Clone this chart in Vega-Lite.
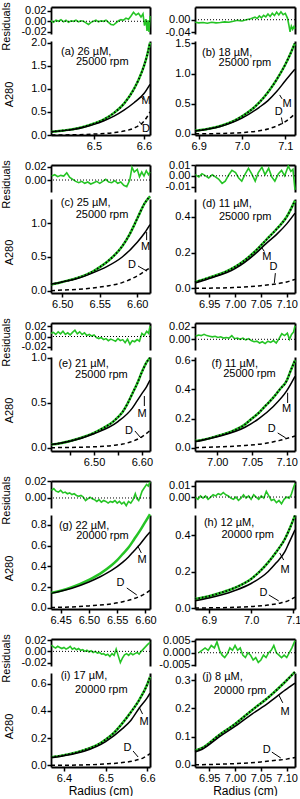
{
"$schema":"https://vega.github.io/schema/vega-lite/v6.json",
"padding":{"left":0,"top":1,"right":0,"bottom":0},
"config":{"view":{"stroke":null},"font":"Liberation Sans",
"locale":{"number":{"decimal":".","thousands":",","grouping":[3],"currency":["",""],"minus":"-"}},
"axis":{"grid":false,"domainColor":"black","domainWidth":1.8,"tickColor":"black","tickWidth":1.5,"tickSize":4,"labelFontSize":11,"labelColor":"black","labelPadding":1,"labelFlush":false,"labelOverlap":false,"labelBound":false,"titleFontSize":11,"titleFontWeight":"normal","titleColor":"black"},
"text":{"font":"Liberation Sans","color":"black"}},
"datasets":{"d":[
{"p":"a","s":"res","r":6.414,"v":0.001},{"p":"a","s":"res","r":6.419,"v":-0.002},{"p":"a","s":"res","r":6.424,"v":0.002},{"p":"a","s":"res","r":6.429,"v":0},{"p":"a","s":"res","r":6.434,"v":0.003},{"p":"a","s":"res","r":6.439,"v":-0.001},{"p":"a","s":"res","r":6.444,"v":0.002},{"p":"a","s":"res","r":6.449,"v":-0.002},{"p":"a","s":"res","r":6.454,"v":0.001},{"p":"a","s":"res","r":6.459,"v":0},{"p":"a","s":"res","r":6.464,"v":0.002},{"p":"a","s":"res","r":6.469,"v":-0.001},{"p":"a","s":"res","r":6.474,"v":0.001},{"p":"a","s":"res","r":6.479,"v":0},{"p":"a","s":"res","r":6.484,"v":-0.003},{"p":"a","s":"res","r":6.489,"v":-0.006},{"p":"a","s":"res","r":6.494,"v":-0.002},{"p":"a","s":"res","r":6.499,"v":0},{"p":"a","s":"res","r":6.504,"v":0.002},{"p":"a","s":"res","r":6.509,"v":-0.001},{"p":"a","s":"res","r":6.514,"v":0.001},{"p":"a","s":"res","r":6.519,"v":0},{"p":"a","s":"res","r":6.524,"v":0.002},{"p":"a","s":"res","r":6.529,"v":-0.002},{"p":"a","s":"res","r":6.534,"v":-0.006},{"p":"a","s":"res","r":6.539,"v":-0.007},{"p":"a","s":"res","r":6.544,"v":-0.003},{"p":"a","s":"res","r":6.549,"v":0.001},{"p":"a","s":"res","r":6.554,"v":0.003},{"p":"a","s":"res","r":6.559,"v":0.002},{"p":"a","s":"res","r":6.564,"v":0.006},{"p":"a","s":"res","r":6.569,"v":0.004},{"p":"a","s":"res","r":6.574,"v":0.01},{"p":"a","s":"res","r":6.579,"v":0.017},{"p":"a","s":"res","r":6.584,"v":0.012},{"p":"a","s":"res","r":6.589,"v":0.015},{"p":"a","s":"res","r":6.594,"v":0.008},{"p":"a","s":"res","r":6.598,"v":0.014},{"p":"a","s":"res","r":6.601,"v":-0.008},{"p":"a","s":"res","r":6.604,"v":0.004},{"p":"a","s":"res","r":6.606,"v":-0.018},{"p":"a","s":"res","r":6.608,"v":0.002},{"p":"a","s":"res","r":6.61,"v":-0.02},{"p":"a","s":"res","r":6.612,"v":0.01},
{"p":"a","s":"fit","r":6.415,"v":0.07},{"p":"a","s":"fit","r":6.44,"v":0.1},{"p":"a","s":"fit","r":6.46,"v":0.13},{"p":"a","s":"fit","r":6.48,"v":0.18},{"p":"a","s":"fit","r":6.5,"v":0.25},{"p":"a","s":"fit","r":6.52,"v":0.34},{"p":"a","s":"fit","r":6.54,"v":0.48},{"p":"a","s":"fit","r":6.56,"v":0.68},{"p":"a","s":"fit","r":6.58,"v":1.0},{"p":"a","s":"fit","r":6.59,"v":1.22},{"p":"a","s":"fit","r":6.6,"v":1.5},{"p":"a","s":"fit","r":6.606,"v":1.72},{"p":"a","s":"fit","r":6.612,"v":2.0},
{"p":"a","s":"M","r":6.415,"v":0.07},{"p":"a","s":"M","r":6.44,"v":0.095},{"p":"a","s":"M","r":6.46,"v":0.125},{"p":"a","s":"M","r":6.48,"v":0.17},{"p":"a","s":"M","r":6.5,"v":0.23},{"p":"a","s":"M","r":6.52,"v":0.31},{"p":"a","s":"M","r":6.54,"v":0.41},{"p":"a","s":"M","r":6.56,"v":0.54},{"p":"a","s":"M","r":6.58,"v":0.7},{"p":"a","s":"M","r":6.6,"v":0.9},{"p":"a","s":"M","r":6.612,"v":1.1},
{"p":"a","s":"D","r":6.415,"v":0},{"p":"a","s":"D","r":6.46,"v":0.005},{"p":"a","s":"D","r":6.5,"v":0.02},{"p":"a","s":"D","r":6.54,"v":0.05},{"p":"a","s":"D","r":6.56,"v":0.085},{"p":"a","s":"D","r":6.58,"v":0.15},{"p":"a","s":"D","r":6.6,"v":0.3},{"p":"a","s":"D","r":6.612,"v":0.5},
{"p":"a","s":"lab","r":6.434,"v":1.81,"t":"(a) 26 µM,"},{"p":"a","s":"lab","r":6.464,"v":1.575,"t":"25000 rpm"},{"p":"a","s":"md","r":6.604,"v":0.745,"t":"M"},{"p":"a","s":"md","r":6.604,"v":0.12,"t":"D"},
{"p":"a","s":"lead","r":6.5946,"v":0.82,"r2":6.6,"v2":0.77},{"p":"a","s":"lead","r":6.59,"v":0.29,"r2":6.597,"v2":0.22},

{"p":"b","s":"res","r":6.892,"v":-0.008},{"p":"b","s":"res","r":6.9,"v":-0.01},{"p":"b","s":"res","r":6.91,"v":-0.009},{"p":"b","s":"res","r":6.92,"v":-0.011},{"p":"b","s":"res","r":6.93,"v":-0.008},{"p":"b","s":"res","r":6.94,"v":-0.01},{"p":"b","s":"res","r":6.95,"v":-0.009},{"p":"b","s":"res","r":6.96,"v":-0.007},{"p":"b","s":"res","r":6.97,"v":-0.008},{"p":"b","s":"res","r":6.98,"v":-0.005},{"p":"b","s":"res","r":6.99,"v":-0.002},{"p":"b","s":"res","r":7.0,"v":-0.004},{"p":"b","s":"res","r":7.01,"v":0},{"p":"b","s":"res","r":7.02,"v":0.003},{"p":"b","s":"res","r":7.03,"v":0.008},{"p":"b","s":"res","r":7.035,"v":0.004},{"p":"b","s":"res","r":7.04,"v":0.012},{"p":"b","s":"res","r":7.045,"v":0.006},{"p":"b","s":"res","r":7.05,"v":0.014},{"p":"b","s":"res","r":7.055,"v":0.009},{"p":"b","s":"res","r":7.06,"v":0.018},{"p":"b","s":"res","r":7.065,"v":0.01},{"p":"b","s":"res","r":7.07,"v":0.02},{"p":"b","s":"res","r":7.075,"v":0.013},{"p":"b","s":"res","r":7.08,"v":0.024},{"p":"b","s":"res","r":7.085,"v":0.015},{"p":"b","s":"res","r":7.09,"v":0.025},{"p":"b","s":"res","r":7.095,"v":0.016},{"p":"b","s":"res","r":7.1,"v":0.02},{"p":"b","s":"res","r":7.105,"v":0.005},{"p":"b","s":"res","r":7.108,"v":-0.015},{"p":"b","s":"res","r":7.111,"v":-0.038},{"p":"b","s":"res","r":7.114,"v":-0.02},{"p":"b","s":"res","r":7.117,"v":-0.03},{"p":"b","s":"res","r":7.12,"v":-0.022},{"p":"b","s":"res","r":7.122,"v":-0.028},
{"p":"b","s":"fit","r":6.892,"v":0.05},{"p":"b","s":"fit","r":6.92,"v":0.08},{"p":"b","s":"fit","r":6.95,"v":0.13},{"p":"b","s":"fit","r":6.98,"v":0.21},{"p":"b","s":"fit","r":7.0,"v":0.29},{"p":"b","s":"fit","r":7.02,"v":0.39},{"p":"b","s":"fit","r":7.04,"v":0.52},{"p":"b","s":"fit","r":7.06,"v":0.69},{"p":"b","s":"fit","r":7.08,"v":0.9},{"p":"b","s":"fit","r":7.1,"v":1.15},{"p":"b","s":"fit","r":7.11,"v":1.3},{"p":"b","s":"fit","r":7.122,"v":1.5},
{"p":"b","s":"M","r":6.892,"v":0.045},{"p":"b","s":"M","r":6.95,"v":0.12},{"p":"b","s":"M","r":7.0,"v":0.26},{"p":"b","s":"M","r":7.04,"v":0.44},{"p":"b","s":"M","r":7.06,"v":0.55},{"p":"b","s":"M","r":7.08,"v":0.7},{"p":"b","s":"M","r":7.1,"v":0.88},{"p":"b","s":"M","r":7.122,"v":1.07},
{"p":"b","s":"D","r":6.892,"v":0},{"p":"b","s":"D","r":6.95,"v":0.005},{"p":"b","s":"D","r":7.0,"v":0.02},{"p":"b","s":"D","r":7.04,"v":0.05},{"p":"b","s":"D","r":7.06,"v":0.08},{"p":"b","s":"D","r":7.08,"v":0.13},{"p":"b","s":"D","r":7.1,"v":0.2},{"p":"b","s":"D","r":7.122,"v":0.33},
{"p":"b","s":"lab","r":6.9076,"v":1.334,"t":"(b) 18 µM,"},{"p":"b","s":"lab","r":6.946,"v":1.173,"t":"25000 rpm"},{"p":"b","s":"md","r":7.104,"v":0.5,"t":"M"},{"p":"b","s":"md","r":7.085,"v":0.37,"t":"D"},
{"p":"b","s":"lead","r":7.087,"v":0.645,"r2":7.0925,"v2":0.58},{"p":"b","s":"lead","r":7.091,"v":0.27,"r2":7.094,"v2":0.16},

{"p":"c","s":"res","r":6.486,"v":0.006},{"p":"c","s":"res","r":6.49,"v":0.008},{"p":"c","s":"res","r":6.494,"v":0.005},{"p":"c","s":"res","r":6.498,"v":0.007},{"p":"c","s":"res","r":6.502,"v":0.006},{"p":"c","s":"res","r":6.506,"v":0.011},{"p":"c","s":"res","r":6.51,"v":0.004},{"p":"c","s":"res","r":6.514,"v":0.001},{"p":"c","s":"res","r":6.518,"v":-0.002},{"p":"c","s":"res","r":6.522,"v":-0.004},{"p":"c","s":"res","r":6.526,"v":-0.002},{"p":"c","s":"res","r":6.53,"v":-0.005},{"p":"c","s":"res","r":6.534,"v":-0.003},{"p":"c","s":"res","r":6.538,"v":-0.006},{"p":"c","s":"res","r":6.542,"v":-0.004},{"p":"c","s":"res","r":6.546,"v":-0.002},{"p":"c","s":"res","r":6.55,"v":-0.005},{"p":"c","s":"res","r":6.554,"v":-0.002},{"p":"c","s":"res","r":6.558,"v":0.001},{"p":"c","s":"res","r":6.562,"v":-0.003},{"p":"c","s":"res","r":6.566,"v":-0.004},{"p":"c","s":"res","r":6.57,"v":-0.001},{"p":"c","s":"res","r":6.574,"v":-0.005},{"p":"c","s":"res","r":6.578,"v":-0.003},{"p":"c","s":"res","r":6.582,"v":-0.008},{"p":"c","s":"res","r":6.586,"v":-0.01},{"p":"c","s":"res","r":6.59,"v":0},{"p":"c","s":"res","r":6.593,"v":0.019},{"p":"c","s":"res","r":6.596,"v":0.012},{"p":"c","s":"res","r":6.6,"v":0.016},{"p":"c","s":"res","r":6.603,"v":0.005},{"p":"c","s":"res","r":6.606,"v":0.012},{"p":"c","s":"res","r":6.609,"v":0.006},{"p":"c","s":"res","r":6.612,"v":0.014},{"p":"c","s":"res","r":6.615,"v":0.008},{"p":"c","s":"res","r":6.617,"v":0.012},
{"p":"c","s":"fit","r":6.485,"v":0.09},{"p":"c","s":"fit","r":6.5,"v":0.13},{"p":"c","s":"fit","r":6.52,"v":0.19},{"p":"c","s":"fit","r":6.54,"v":0.28},{"p":"c","s":"fit","r":6.55,"v":0.35},{"p":"c","s":"fit","r":6.56,"v":0.43},{"p":"c","s":"fit","r":6.57,"v":0.53},{"p":"c","s":"fit","r":6.58,"v":0.66},{"p":"c","s":"fit","r":6.59,"v":0.84},{"p":"c","s":"fit","r":6.6,"v":1.07},{"p":"c","s":"fit","r":6.61,"v":1.3},{"p":"c","s":"fit","r":6.617,"v":1.4},
{"p":"c","s":"M","r":6.485,"v":0.1},{"p":"c","s":"M","r":6.5,"v":0.13},{"p":"c","s":"M","r":6.52,"v":0.18},{"p":"c","s":"M","r":6.54,"v":0.26},{"p":"c","s":"M","r":6.56,"v":0.36},{"p":"c","s":"M","r":6.58,"v":0.5},{"p":"c","s":"M","r":6.6,"v":0.72},{"p":"c","s":"M","r":6.61,"v":0.86},{"p":"c","s":"M","r":6.617,"v":0.98},
{"p":"c","s":"D","r":6.485,"v":0},{"p":"c","s":"D","r":6.5,"v":0.01},{"p":"c","s":"D","r":6.52,"v":0.02},{"p":"c","s":"D","r":6.54,"v":0.04},{"p":"c","s":"D","r":6.56,"v":0.07},{"p":"c","s":"D","r":6.58,"v":0.12},{"p":"c","s":"D","r":6.6,"v":0.22},{"p":"c","s":"D","r":6.61,"v":0.29},{"p":"c","s":"D","r":6.617,"v":0.34},
{"p":"c","s":"lab","r":6.498,"v":1.297,"t":"(c) 25 µM,"},{"p":"c","s":"lab","r":6.518,"v":1.123,"t":"25000 rpm"},{"p":"c","s":"md","r":6.611,"v":0.653,"t":"M"},{"p":"c","s":"md","r":6.593,"v":0.38,"t":"D"},
{"p":"c","s":"lead","r":6.6125,"v":0.87,"r2":6.6125,"v2":0.75},{"p":"c","s":"lead","r":6.601,"v":0.366,"r2":6.613,"v2":0.29},

{"p":"d","s":"res","r":6.923,"v":0.001},{"p":"d","s":"res","r":6.93,"v":-0.001},{"p":"d","s":"res","r":6.936,"v":0.002},{"p":"d","s":"res","r":6.943,"v":0},{"p":"d","s":"res","r":6.949,"v":-0.002},{"p":"d","s":"res","r":6.956,"v":0.001},{"p":"d","s":"res","r":6.962,"v":-0.001},{"p":"d","s":"res","r":6.968,"v":-0.003},{"p":"d","s":"res","r":6.975,"v":-0.007},{"p":"d","s":"res","r":6.981,"v":-0.005},{"p":"d","s":"res","r":6.988,"v":0.001},{"p":"d","s":"res","r":6.994,"v":0.005},{"p":"d","s":"res","r":7.001,"v":0.003},{"p":"d","s":"res","r":7.007,"v":-0.002},{"p":"d","s":"res","r":7.013,"v":-0.005},{"p":"d","s":"res","r":7.02,"v":0.002},{"p":"d","s":"res","r":7.026,"v":0.007},{"p":"d","s":"res","r":7.032,"v":0.002},{"p":"d","s":"res","r":7.039,"v":-0.005},{"p":"d","s":"res","r":7.045,"v":0.003},{"p":"d","s":"res","r":7.052,"v":0.008},{"p":"d","s":"res","r":7.058,"v":0.001},{"p":"d","s":"res","r":7.065,"v":0.007},{"p":"d","s":"res","r":7.071,"v":-0.001},{"p":"d","s":"res","r":7.077,"v":-0.005},{"p":"d","s":"res","r":7.084,"v":0.002},{"p":"d","s":"res","r":7.09,"v":0.005},{"p":"d","s":"res","r":7.096,"v":0},{"p":"d","s":"res","r":7.103,"v":0.009},{"p":"d","s":"res","r":7.108,"v":0.004},{"p":"d","s":"res","r":7.112,"v":0.006},{"p":"d","s":"res","r":7.116,"v":-0.013},
{"p":"d","s":"fit","r":6.9225,"v":0.035},{"p":"d","s":"fit","r":6.95,"v":0.06},{"p":"d","s":"fit","r":6.98,"v":0.09},{"p":"d","s":"fit","r":7.0,"v":0.12},{"p":"d","s":"fit","r":7.02,"v":0.16},{"p":"d","s":"fit","r":7.04,"v":0.21},{"p":"d","s":"fit","r":7.06,"v":0.27},{"p":"d","s":"fit","r":7.08,"v":0.33},{"p":"d","s":"fit","r":7.1,"v":0.4},{"p":"d","s":"fit","r":7.116,"v":0.49},
{"p":"d","s":"M","r":6.9225,"v":0.03},{"p":"d","s":"M","r":6.95,"v":0.055},{"p":"d","s":"M","r":7.0,"v":0.11},{"p":"d","s":"M","r":7.04,"v":0.195},{"p":"d","s":"M","r":7.06,"v":0.25},{"p":"d","s":"M","r":7.08,"v":0.3},{"p":"d","s":"M","r":7.1,"v":0.36},{"p":"d","s":"M","r":7.116,"v":0.42},
{"p":"d","s":"D","r":6.9225,"v":0},{"p":"d","s":"D","r":7.0,"v":0.005},{"p":"d","s":"D","r":7.05,"v":0.015},{"p":"d","s":"D","r":7.08,"v":0.025},{"p":"d","s":"D","r":7.1,"v":0.036},{"p":"d","s":"D","r":7.116,"v":0.05},
{"p":"d","s":"lab","r":6.9365,"v":0.472,"t":"(d) 11 µM,"},{"p":"d","s":"lab","r":6.9687,"v":0.398,"t":"25000 rpm"},{"p":"d","s":"md","r":7.0615,"v":0.176,"t":"M"},{"p":"d","s":"md","r":7.0744,"v":0.12,"t":"D"},
{"p":"d","s":"lead","r":7.0513,"v":0.229,"r2":7.0567,"v2":0.206},{"p":"d","s":"lead","r":7.078,"v":0.085,"r2":7.076,"v2":0.03},

{"p":"e","s":"res","r":6.41,"v":0.006},{"p":"e","s":"res","r":6.415,"v":0.008},{"p":"e","s":"res","r":6.42,"v":0.004},{"p":"e","s":"res","r":6.425,"v":0.009},{"p":"e","s":"res","r":6.43,"v":0.005},{"p":"e","s":"res","r":6.435,"v":0.01},{"p":"e","s":"res","r":6.44,"v":0.004},{"p":"e","s":"res","r":6.445,"v":0.007},{"p":"e","s":"res","r":6.45,"v":0.003},{"p":"e","s":"res","r":6.455,"v":0.008},{"p":"e","s":"res","r":6.46,"v":0.012},{"p":"e","s":"res","r":6.465,"v":0.005},{"p":"e","s":"res","r":6.47,"v":0.009},{"p":"e","s":"res","r":6.475,"v":0.004},{"p":"e","s":"res","r":6.48,"v":0.007},{"p":"e","s":"res","r":6.485,"v":0.002},{"p":"e","s":"res","r":6.49,"v":0.004},{"p":"e","s":"res","r":6.495,"v":0.001},{"p":"e","s":"res","r":6.5,"v":0.003},{"p":"e","s":"res","r":6.505,"v":-0.002},{"p":"e","s":"res","r":6.51,"v":-0.004},{"p":"e","s":"res","r":6.515,"v":-0.002},{"p":"e","s":"res","r":6.52,"v":-0.006},{"p":"e","s":"res","r":6.525,"v":-0.004},{"p":"e","s":"res","r":6.53,"v":-0.008},{"p":"e","s":"res","r":6.535,"v":-0.005},{"p":"e","s":"res","r":6.54,"v":-0.007},{"p":"e","s":"res","r":6.545,"v":-0.009},{"p":"e","s":"res","r":6.55,"v":-0.004},{"p":"e","s":"res","r":6.555,"v":-0.008},{"p":"e","s":"res","r":6.56,"v":-0.006},{"p":"e","s":"res","r":6.565,"v":-0.012},{"p":"e","s":"res","r":6.57,"v":-0.005},{"p":"e","s":"res","r":6.575,"v":-0.015},{"p":"e","s":"res","r":6.58,"v":-0.008},{"p":"e","s":"res","r":6.585,"v":-0.01},{"p":"e","s":"res","r":6.59,"v":-0.006},{"p":"e","s":"res","r":6.595,"v":-0.009},{"p":"e","s":"res","r":6.6,"v":0.006},{"p":"e","s":"res","r":6.605,"v":0.002},{"p":"e","s":"res","r":6.61,"v":0.01},{"p":"e","s":"res","r":6.614,"v":0.006},{"p":"e","s":"res","r":6.617,"v":0.02},
{"p":"e","s":"fit","r":6.41,"v":0.035},{"p":"e","s":"fit","r":6.43,"v":0.05},{"p":"e","s":"fit","r":6.45,"v":0.075},{"p":"e","s":"fit","r":6.47,"v":0.105},{"p":"e","s":"fit","r":6.5,"v":0.165},{"p":"e","s":"fit","r":6.52,"v":0.22},{"p":"e","s":"fit","r":6.54,"v":0.29},{"p":"e","s":"fit","r":6.55,"v":0.34},{"p":"e","s":"fit","r":6.56,"v":0.4},{"p":"e","s":"fit","r":6.57,"v":0.49},{"p":"e","s":"fit","r":6.58,"v":0.6},{"p":"e","s":"fit","r":6.59,"v":0.71},{"p":"e","s":"fit","r":6.6,"v":0.84},{"p":"e","s":"fit","r":6.61,"v":0.95},{"p":"e","s":"fit","r":6.617,"v":1.0},
{"p":"e","s":"M","r":6.41,"v":0.035},{"p":"e","s":"M","r":6.45,"v":0.072},{"p":"e","s":"M","r":6.5,"v":0.155},{"p":"e","s":"M","r":6.55,"v":0.29},{"p":"e","s":"M","r":6.58,"v":0.44},{"p":"e","s":"M","r":6.59,"v":0.52},{"p":"e","s":"M","r":6.6,"v":0.6},{"p":"e","s":"M","r":6.61,"v":0.68},{"p":"e","s":"M","r":6.617,"v":0.75},
{"p":"e","s":"D","r":6.41,"v":0},{"p":"e","s":"D","r":6.5,"v":0.01},{"p":"e","s":"D","r":6.54,"v":0.025},{"p":"e","s":"D","r":6.56,"v":0.04},{"p":"e","s":"D","r":6.58,"v":0.07},{"p":"e","s":"D","r":6.6,"v":0.12},{"p":"e","s":"D","r":6.617,"v":0.19},
{"p":"e","s":"lab","r":6.4256,"v":0.933,"t":"(e) 21 µM,"},{"p":"e","s":"lab","r":6.4604,"v":0.804,"t":"25000 rpm"},{"p":"e","s":"md","r":6.6006,"v":0.371,"t":"M"},{"p":"e","s":"md","r":6.5729,"v":0.186,"t":"D"},
{"p":"e","s":"lead","r":6.6052,"v":0.574,"r2":6.6052,"v2":0.463},{"p":"e","s":"lead","r":6.5854,"v":0.186,"r2":6.598,"v2":0.108},

{"p":"f","s":"res","r":6.969,"v":0.005},{"p":"f","s":"res","r":6.973,"v":0.007},{"p":"f","s":"res","r":6.977,"v":0.006},{"p":"f","s":"res","r":6.981,"v":0.008},{"p":"f","s":"res","r":6.985,"v":0.006},{"p":"f","s":"res","r":6.989,"v":0.005},{"p":"f","s":"res","r":6.993,"v":0.004},{"p":"f","s":"res","r":6.997,"v":0.005},{"p":"f","s":"res","r":7.001,"v":0.003},{"p":"f","s":"res","r":7.005,"v":0.004},{"p":"f","s":"res","r":7.009,"v":0.002},{"p":"f","s":"res","r":7.013,"v":0.003},{"p":"f","s":"res","r":7.017,"v":0.002},{"p":"f","s":"res","r":7.021,"v":0.006},{"p":"f","s":"res","r":7.025,"v":0.001},{"p":"f","s":"res","r":7.029,"v":0.002},{"p":"f","s":"res","r":7.033,"v":0},{"p":"f","s":"res","r":7.037,"v":0.002},{"p":"f","s":"res","r":7.041,"v":-0.001},{"p":"f","s":"res","r":7.045,"v":0.001},{"p":"f","s":"res","r":7.049,"v":-0.002},{"p":"f","s":"res","r":7.053,"v":-0.004},{"p":"f","s":"res","r":7.057,"v":-0.003},{"p":"f","s":"res","r":7.061,"v":-0.006},{"p":"f","s":"res","r":7.065,"v":-0.004},{"p":"f","s":"res","r":7.069,"v":-0.007},{"p":"f","s":"res","r":7.073,"v":-0.003},{"p":"f","s":"res","r":7.077,"v":-0.005},{"p":"f","s":"res","r":7.081,"v":-0.002},{"p":"f","s":"res","r":7.085,"v":-0.006},{"p":"f","s":"res","r":7.089,"v":0.001},{"p":"f","s":"res","r":7.093,"v":0.009},{"p":"f","s":"res","r":7.097,"v":0.006},{"p":"f","s":"res","r":7.101,"v":0.01},{"p":"f","s":"res","r":7.104,"v":0},{"p":"f","s":"res","r":7.107,"v":0.008},{"p":"f","s":"res","r":7.11,"v":0.012},{"p":"f","s":"res","r":7.112,"v":0.022},
{"p":"f","s":"fit","r":6.968,"v":0.045},{"p":"f","s":"fit","r":6.98,"v":0.055},{"p":"f","s":"fit","r":7.0,"v":0.08},{"p":"f","s":"fit","r":7.02,"v":0.11},{"p":"f","s":"fit","r":7.04,"v":0.16},{"p":"f","s":"fit","r":7.05,"v":0.2},{"p":"f","s":"fit","r":7.06,"v":0.24},{"p":"f","s":"fit","r":7.07,"v":0.29},{"p":"f","s":"fit","r":7.08,"v":0.34},{"p":"f","s":"fit","r":7.09,"v":0.4},{"p":"f","s":"fit","r":7.1,"v":0.46},{"p":"f","s":"fit","r":7.105,"v":0.52},{"p":"f","s":"fit","r":7.112,"v":0.6},
{"p":"f","s":"M","r":6.968,"v":0.04},{"p":"f","s":"M","r":7.0,"v":0.075},{"p":"f","s":"M","r":7.04,"v":0.14},{"p":"f","s":"M","r":7.06,"v":0.2},{"p":"f","s":"M","r":7.08,"v":0.28},{"p":"f","s":"M","r":7.1,"v":0.39},{"p":"f","s":"M","r":7.112,"v":0.49},
{"p":"f","s":"D","r":6.968,"v":0},{"p":"f","s":"D","r":7.0,"v":0.005},{"p":"f","s":"D","r":7.04,"v":0.015},{"p":"f","s":"D","r":7.07,"v":0.03},{"p":"f","s":"D","r":7.09,"v":0.05},{"p":"f","s":"D","r":7.112,"v":0.08},
{"p":"f","s":"lab","r":6.9919,"v":0.572,"t":"(f) 11 µM,"},{"p":"f","s":"lab","r":7.0086,"v":0.504,"t":"25000 rpm"},{"p":"f","s":"md","r":7.1,"v":0.264,"t":"M"},{"p":"f","s":"md","r":7.0786,"v":0.126,"t":"D"},
{"p":"f","s":"lead","r":7.1014,"v":0.377,"r2":7.1014,"v2":0.307},{"p":"f","s":"lead","r":7.0871,"v":0.101,"r2":7.0986,"v2":0.067},

{"p":"g","s":"res","r":6.434,"v":0.009},{"p":"g","s":"res","r":6.438,"v":0.011},{"p":"g","s":"res","r":6.442,"v":0.008},{"p":"g","s":"res","r":6.446,"v":0.007},{"p":"g","s":"res","r":6.45,"v":0.009},{"p":"g","s":"res","r":6.454,"v":0.006},{"p":"g","s":"res","r":6.458,"v":0.007},{"p":"g","s":"res","r":6.462,"v":0.005},{"p":"g","s":"res","r":6.466,"v":0.006},{"p":"g","s":"res","r":6.47,"v":0.004},{"p":"g","s":"res","r":6.474,"v":0.005},{"p":"g","s":"res","r":6.478,"v":0.003},{"p":"g","s":"res","r":6.482,"v":0.002},{"p":"g","s":"res","r":6.486,"v":0.003},{"p":"g","s":"res","r":6.49,"v":0.001},{"p":"g","s":"res","r":6.494,"v":-0.003},{"p":"g","s":"res","r":6.498,"v":-0.001},{"p":"g","s":"res","r":6.502,"v":0.001},{"p":"g","s":"res","r":6.506,"v":-0.001},{"p":"g","s":"res","r":6.51,"v":-0.002},{"p":"g","s":"res","r":6.514,"v":-0.004},{"p":"g","s":"res","r":6.518,"v":-0.002},{"p":"g","s":"res","r":6.522,"v":-0.005},{"p":"g","s":"res","r":6.526,"v":-0.003},{"p":"g","s":"res","r":6.53,"v":-0.004},{"p":"g","s":"res","r":6.534,"v":-0.006},{"p":"g","s":"res","r":6.538,"v":-0.004},{"p":"g","s":"res","r":6.542,"v":-0.005},{"p":"g","s":"res","r":6.546,"v":-0.003},{"p":"g","s":"res","r":6.55,"v":-0.006},{"p":"g","s":"res","r":6.554,"v":-0.004},{"p":"g","s":"res","r":6.558,"v":-0.007},{"p":"g","s":"res","r":6.562,"v":-0.005},{"p":"g","s":"res","r":6.566,"v":-0.009},{"p":"g","s":"res","r":6.57,"v":-0.004},{"p":"g","s":"res","r":6.574,"v":-0.006},{"p":"g","s":"res","r":6.578,"v":-0.002},{"p":"g","s":"res","r":6.582,"v":0.005},{"p":"g","s":"res","r":6.585,"v":-0.001},{"p":"g","s":"res","r":6.588,"v":-0.003},{"p":"g","s":"res","r":6.591,"v":0.002},{"p":"g","s":"res","r":6.594,"v":0.008},{"p":"g","s":"res","r":6.598,"v":0.012},{"p":"g","s":"res","r":6.602,"v":0.016},{"p":"g","s":"res","r":6.605,"v":0.014},{"p":"g","s":"res","r":6.608,"v":0.019},
{"p":"g","s":"data","r":6.433,"v":0.145},{"p":"g","s":"data","r":6.45,"v":0.165},{"p":"g","s":"data","r":6.47,"v":0.2},{"p":"g","s":"data","r":6.5,"v":0.27},{"p":"g","s":"data","r":6.52,"v":0.33},{"p":"g","s":"data","r":6.54,"v":0.41},{"p":"g","s":"data","r":6.55,"v":0.46},{"p":"g","s":"data","r":6.56,"v":0.52},{"p":"g","s":"data","r":6.57,"v":0.58},{"p":"g","s":"data","r":6.58,"v":0.66},{"p":"g","s":"data","r":6.59,"v":0.74},{"p":"g","s":"data","r":6.6,"v":0.83},{"p":"g","s":"data","r":6.608,"v":0.9},
{"p":"g","s":"M","r":6.433,"v":0.14},{"p":"g","s":"M","r":6.45,"v":0.16},{"p":"g","s":"M","r":6.47,"v":0.19},{"p":"g","s":"M","r":6.5,"v":0.25},{"p":"g","s":"M","r":6.52,"v":0.3},{"p":"g","s":"M","r":6.54,"v":0.36},{"p":"g","s":"M","r":6.56,"v":0.44},{"p":"g","s":"M","r":6.57,"v":0.49},{"p":"g","s":"M","r":6.58,"v":0.55},{"p":"g","s":"M","r":6.59,"v":0.61},{"p":"g","s":"M","r":6.6,"v":0.68},{"p":"g","s":"M","r":6.608,"v":0.73},
{"p":"g","s":"D","r":6.433,"v":0.005},{"p":"g","s":"D","r":6.47,"v":0.01},{"p":"g","s":"D","r":6.5,"v":0.02},{"p":"g","s":"D","r":6.54,"v":0.04},{"p":"g","s":"D","r":6.56,"v":0.06},{"p":"g","s":"D","r":6.58,"v":0.09},{"p":"g","s":"D","r":6.6,"v":0.14},{"p":"g","s":"D","r":6.608,"v":0.17},
{"p":"g","s":"lab","r":6.447,"v":0.791,"t":"(g) 22 µM,"},{"p":"g","s":"lab","r":6.4775,"v":0.689,"t":"20000 rpm"},{"p":"g","s":"md","r":6.594,"v":0.464,"t":"M"},{"p":"g","s":"md","r":6.5559,"v":0.24,"t":"D"},
{"p":"g","s":"lead","r":6.5864,"v":0.596,"r2":6.5926,"v2":0.529},{"p":"g","s":"lead","r":6.567,"v":0.192,"r2":6.5846,"v2":0.125},

{"p":"h","s":"res","r":6.868,"v":0},{"p":"h","s":"res","r":6.874,"v":-0.002},{"p":"h","s":"res","r":6.88,"v":0.001},{"p":"h","s":"res","r":6.886,"v":-0.001},{"p":"h","s":"res","r":6.892,"v":0.001},{"p":"h","s":"res","r":6.898,"v":-0.002},{"p":"h","s":"res","r":6.904,"v":0},{"p":"h","s":"res","r":6.91,"v":0.002},{"p":"h","s":"res","r":6.916,"v":0.001},{"p":"h","s":"res","r":6.922,"v":0.003},{"p":"h","s":"res","r":6.928,"v":0.002},{"p":"h","s":"res","r":6.934,"v":0.004},{"p":"h","s":"res","r":6.94,"v":0.002},{"p":"h","s":"res","r":6.946,"v":0.001},{"p":"h","s":"res","r":6.952,"v":-0.001},{"p":"h","s":"res","r":6.958,"v":-0.002},{"p":"h","s":"res","r":6.964,"v":0},{"p":"h","s":"res","r":6.97,"v":-0.003},{"p":"h","s":"res","r":6.976,"v":-0.001},{"p":"h","s":"res","r":6.982,"v":0.002},{"p":"h","s":"res","r":6.988,"v":-0.001},{"p":"h","s":"res","r":6.994,"v":0.001},{"p":"h","s":"res","r":7.0,"v":-0.002},{"p":"h","s":"res","r":7.006,"v":0.002},{"p":"h","s":"res","r":7.012,"v":0},{"p":"h","s":"res","r":7.018,"v":-0.002},{"p":"h","s":"res","r":7.024,"v":0.001},{"p":"h","s":"res","r":7.03,"v":-0.001},{"p":"h","s":"res","r":7.036,"v":0.005},{"p":"h","s":"res","r":7.042,"v":0.001},{"p":"h","s":"res","r":7.048,"v":-0.003},{"p":"h","s":"res","r":7.054,"v":-0.002},{"p":"h","s":"res","r":7.06,"v":-0.005},{"p":"h","s":"res","r":7.066,"v":-0.003},{"p":"h","s":"res","r":7.072,"v":-0.006},{"p":"h","s":"res","r":7.078,"v":-0.002},{"p":"h","s":"res","r":7.084,"v":0},{"p":"h","s":"res","r":7.09,"v":-0.001},{"p":"h","s":"res","r":7.095,"v":0.002},{"p":"h","s":"res","r":7.1,"v":0.008},{"p":"h","s":"res","r":7.104,"v":0.012},
{"p":"h","s":"fit","r":6.867,"v":0.05},{"p":"h","s":"fit","r":6.9,"v":0.065},{"p":"h","s":"fit","r":6.93,"v":0.085},{"p":"h","s":"fit","r":6.96,"v":0.11},{"p":"h","s":"fit","r":7.0,"v":0.16},{"p":"h","s":"fit","r":7.02,"v":0.2},{"p":"h","s":"fit","r":7.04,"v":0.25},{"p":"h","s":"fit","r":7.06,"v":0.31},{"p":"h","s":"fit","r":7.08,"v":0.38},{"p":"h","s":"fit","r":7.09,"v":0.43},{"p":"h","s":"fit","r":7.104,"v":0.51},
{"p":"h","s":"M","r":6.867,"v":0.04},{"p":"h","s":"M","r":6.9,"v":0.055},{"p":"h","s":"M","r":6.96,"v":0.095},{"p":"h","s":"M","r":7.0,"v":0.135},{"p":"h","s":"M","r":7.04,"v":0.2},{"p":"h","s":"M","r":7.06,"v":0.25},{"p":"h","s":"M","r":7.08,"v":0.31},{"p":"h","s":"M","r":7.09,"v":0.36},{"p":"h","s":"M","r":7.104,"v":0.43},
{"p":"h","s":"D","r":6.867,"v":0},{"p":"h","s":"D","r":6.95,"v":0.003},{"p":"h","s":"D","r":7.0,"v":0.008},{"p":"h","s":"D","r":7.04,"v":0.016},{"p":"h","s":"D","r":7.07,"v":0.028},{"p":"h","s":"D","r":7.09,"v":0.042},{"p":"h","s":"D","r":7.104,"v":0.06},
{"p":"h","s":"lab","r":6.8882,"v":0.468,"t":"(h) 12 µM,"},{"p":"h","s":"lab","r":6.9296,"v":0.403,"t":"20000 rpm"},{"p":"h","s":"md","r":7.0802,"v":0.211,"t":"M"},{"p":"h","s":"md","r":7.0294,"v":0.083,"t":"D"},
{"p":"h","s":"lead","r":7.0678,"v":0.303,"r2":7.0772,"v2":0.264},{"p":"h","s":"lead","r":7.0419,"v":0.072,"r2":7.0654,"v2":0.039},

{"p":"i","s":"res","r":6.37,"v":0.011},{"p":"i","s":"res","r":6.375,"v":0.008},{"p":"i","s":"res","r":6.38,"v":0.006},{"p":"i","s":"res","r":6.385,"v":0.009},{"p":"i","s":"res","r":6.39,"v":0.007},{"p":"i","s":"res","r":6.395,"v":0.005},{"p":"i","s":"res","r":6.4,"v":0.007},{"p":"i","s":"res","r":6.405,"v":0.004},{"p":"i","s":"res","r":6.41,"v":0.006},{"p":"i","s":"res","r":6.415,"v":0.009},{"p":"i","s":"res","r":6.42,"v":0.004},{"p":"i","s":"res","r":6.425,"v":0.006},{"p":"i","s":"res","r":6.43,"v":0.003},{"p":"i","s":"res","r":6.435,"v":0.005},{"p":"i","s":"res","r":6.44,"v":0.002},{"p":"i","s":"res","r":6.445,"v":0.003},{"p":"i","s":"res","r":6.45,"v":0},{"p":"i","s":"res","r":6.455,"v":0.002},{"p":"i","s":"res","r":6.46,"v":-0.001},{"p":"i","s":"res","r":6.465,"v":0.001},{"p":"i","s":"res","r":6.47,"v":-0.002},{"p":"i","s":"res","r":6.475,"v":0},{"p":"i","s":"res","r":6.48,"v":-0.003},{"p":"i","s":"res","r":6.485,"v":-0.002},{"p":"i","s":"res","r":6.49,"v":-0.005},{"p":"i","s":"res","r":6.495,"v":-0.004},{"p":"i","s":"res","r":6.5,"v":-0.007},{"p":"i","s":"res","r":6.505,"v":-0.005},{"p":"i","s":"res","r":6.51,"v":-0.009},{"p":"i","s":"res","r":6.515,"v":-0.004},{"p":"i","s":"res","r":6.52,"v":-0.007},{"p":"i","s":"res","r":6.525,"v":0.004},{"p":"i","s":"res","r":6.53,"v":-0.008},{"p":"i","s":"res","r":6.535,"v":-0.02},{"p":"i","s":"res","r":6.54,"v":-0.012},{"p":"i","s":"res","r":6.545,"v":-0.006},{"p":"i","s":"res","r":6.55,"v":-0.004},{"p":"i","s":"res","r":6.555,"v":-0.007},{"p":"i","s":"res","r":6.56,"v":-0.003},{"p":"i","s":"res","r":6.565,"v":-0.006},{"p":"i","s":"res","r":6.57,"v":-0.004},{"p":"i","s":"res","r":6.575,"v":-0.002},{"p":"i","s":"res","r":6.58,"v":-0.005},{"p":"i","s":"res","r":6.585,"v":0},{"p":"i","s":"res","r":6.59,"v":0.004},{"p":"i","s":"res","r":6.595,"v":0.008},{"p":"i","s":"res","r":6.6,"v":0.012},{"p":"i","s":"res","r":6.606,"v":0.016},
{"p":"i","s":"fit","r":6.369,"v":0.06},{"p":"i","s":"fit","r":6.4,"v":0.075},{"p":"i","s":"fit","r":6.43,"v":0.095},{"p":"i","s":"fit","r":6.46,"v":0.125},{"p":"i","s":"fit","r":6.48,"v":0.15},{"p":"i","s":"fit","r":6.5,"v":0.19},{"p":"i","s":"fit","r":6.52,"v":0.24},{"p":"i","s":"fit","r":6.54,"v":0.31},{"p":"i","s":"fit","r":6.56,"v":0.39},{"p":"i","s":"fit","r":6.58,"v":0.48},{"p":"i","s":"fit","r":6.6,"v":0.6},{"p":"i","s":"fit","r":6.606,"v":0.65},
{"p":"i","s":"M","r":6.369,"v":0.055},{"p":"i","s":"M","r":6.4,"v":0.07},{"p":"i","s":"M","r":6.45,"v":0.105},{"p":"i","s":"M","r":6.5,"v":0.175},{"p":"i","s":"M","r":6.54,"v":0.27},{"p":"i","s":"M","r":6.56,"v":0.33},{"p":"i","s":"M","r":6.58,"v":0.42},{"p":"i","s":"M","r":6.6,"v":0.5},{"p":"i","s":"M","r":6.606,"v":0.53},
{"p":"i","s":"D","r":6.369,"v":0},{"p":"i","s":"D","r":6.45,"v":0.003},{"p":"i","s":"D","r":6.5,"v":0.01},{"p":"i","s":"D","r":6.54,"v":0.02},{"p":"i","s":"D","r":6.57,"v":0.035},{"p":"i","s":"D","r":6.59,"v":0.055},{"p":"i","s":"D","r":6.606,"v":0.085},
{"p":"i","s":"lab","r":6.3921,"v":0.657,"t":"(i) 17 µM,"},{"p":"i","s":"lab","r":6.4264,"v":0.556,"t":"20000 rpm"},{"p":"i","s":"md","r":6.5918,"v":0.318,"t":"M"},{"p":"i","s":"md","r":6.5518,"v":0.127,"t":"D"},
{"p":"i","s":"lead","r":6.5799,"v":0.429,"r2":6.5882,"v2":0.377},{"p":"i","s":"lead","r":6.5655,"v":0.105,"r2":6.5775,"v2":0.061},

{"p":"j","s":"res","r":6.93,"v":0},{"p":"j","s":"res","r":6.936,"v":0.001},{"p":"j","s":"res","r":6.942,"v":0.002},{"p":"j","s":"res","r":6.948,"v":0.001},{"p":"j","s":"res","r":6.954,"v":0.003},{"p":"j","s":"res","r":6.96,"v":0.002},{"p":"j","s":"res","r":6.965,"v":0.0045},{"p":"j","s":"res","r":6.97,"v":0.001},{"p":"j","s":"res","r":6.975,"v":-0.001},{"p":"j","s":"res","r":6.98,"v":-0.002},{"p":"j","s":"res","r":6.985,"v":-0.0005},{"p":"j","s":"res","r":6.99,"v":0.002},{"p":"j","s":"res","r":6.995,"v":0.001},{"p":"j","s":"res","r":7.0,"v":0.003},{"p":"j","s":"res","r":7.005,"v":0.001},{"p":"j","s":"res","r":7.01,"v":0.002},{"p":"j","s":"res","r":7.015,"v":-0.001},{"p":"j","s":"res","r":7.02,"v":-0.002},{"p":"j","s":"res","r":7.025,"v":0},{"p":"j","s":"res","r":7.03,"v":-0.001},{"p":"j","s":"res","r":7.035,"v":-0.003},{"p":"j","s":"res","r":7.04,"v":-0.002},{"p":"j","s":"res","r":7.045,"v":-0.004},{"p":"j","s":"res","r":7.05,"v":-0.003},{"p":"j","s":"res","r":7.055,"v":-0.001},{"p":"j","s":"res","r":7.06,"v":-0.002},{"p":"j","s":"res","r":7.065,"v":0},{"p":"j","s":"res","r":7.07,"v":0.001},{"p":"j","s":"res","r":7.075,"v":0.003},{"p":"j","s":"res","r":7.08,"v":0},{"p":"j","s":"res","r":7.085,"v":-0.001},{"p":"j","s":"res","r":7.09,"v":-0.002},{"p":"j","s":"res","r":7.095,"v":-0.001},{"p":"j","s":"res","r":7.1,"v":-0.002},{"p":"j","s":"res","r":7.105,"v":0},{"p":"j","s":"res","r":7.11,"v":0.002},{"p":"j","s":"res","r":7.116,"v":0.005},
{"p":"j","s":"fit","r":6.9225,"v":0.05},{"p":"j","s":"fit","r":6.9365,"v":0.06},{"p":"j","s":"fit","r":6.9687,"v":0.105},{"p":"j","s":"fit","r":7.0006,"v":0.146},{"p":"j","s":"fit","r":7.0327,"v":0.194},{"p":"j","s":"fit","r":7.0648,"v":0.24},{"p":"j","s":"fit","r":7.0967,"v":0.294},{"p":"j","s":"fit","r":7.116,"v":0.33},
{"p":"j","s":"M","r":6.9225,"v":0.045},{"p":"j","s":"M","r":6.9365,"v":0.055},{"p":"j","s":"M","r":6.9687,"v":0.098},{"p":"j","s":"M","r":7.0006,"v":0.137},{"p":"j","s":"M","r":7.0327,"v":0.18},{"p":"j","s":"M","r":7.0648,"v":0.22},{"p":"j","s":"M","r":7.0967,"v":0.265},{"p":"j","s":"M","r":7.116,"v":0.29},
{"p":"j","s":"D","r":6.9225,"v":0},{"p":"j","s":"D","r":7.0,"v":0.004},{"p":"j","s":"D","r":7.05,"v":0.01},{"p":"j","s":"D","r":7.08,"v":0.016},{"p":"j","s":"D","r":7.1,"v":0.02},{"p":"j","s":"D","r":7.116,"v":0.026},
{"p":"j","s":"lab","r":6.9365,"v":0.312,"t":"(j) 8 µM,"},{"p":"j","s":"lab","r":6.959,"v":0.261,"t":"20000 rpm"},{"p":"j","s":"md","r":7.0967,"v":0.188,"t":"M"},{"p":"j","s":"md","r":7.0615,"v":0.051,"t":"D"},
{"p":"j","s":"lead","r":7.0846,"v":0.248,"r2":7.0923,"v2":0.22},{"p":"j","s":"lead","r":7.0712,"v":0.045,"r2":7.0885,"v2":0.024}
]},
"data":{"name":"d"},
"columns":2,
"spacing":{"row":8,"column":1},
"concat":[
{"width":99,"height":128,"resolve":{"scale":{"y":"independent"},"axis":{"x":"independent","y":"independent"}},"layer":[
 {"resolve":{"axis":{"y":"independent"}},"layer":[
  {"transform":[{"filter":"datum.p=='a'&&datum.s=='res'"}],"mark":{"type":"line","color":"#25c425","strokeWidth":1.6},
   "encoding":{"x":{"field":"r","type":"quantitative","scale":{"domain":[6.414,6.612],"nice":false,"zero":false},"axis":{"orient":"top","labels":false,"ticks":false,"domainWidth":2,"title":null}},
   "y":{"field":"v","type":"quantitative","scale":{"domain":[-0.024,0.027],"range":[27,0],"nice":false,"zero":false},"axis":{"orient":"left","values":[-0.02,0,0.02],"format":".2f","title":"Residuals","titleX":-45,"titleY":19,"titleAngle":270,"titleAlign":"center","titleBaseline":"middle"}}}},
  {"data":{"values":[{}]},"mark":{"type":"rule","color":"black","strokeDash":[1,2],"strokeWidth":1},
   "encoding":{"y":{"datum":0,"type":"quantitative","scale":{"domain":[-0.024,0.027],"range":[27,0],"nice":false,"zero":false},"axis":{"orient":"right","labels":false,"ticks":false,"domainWidth":2,"title":null}}}}]},
 {"resolve":{"axis":{"y":"independent"}},
  "encoding":{"x":{"field":"r","type":"quantitative","scale":{"domain":[6.414,6.612],"nice":false,"zero":false},"axis":{"orient":"bottom","values":[6.5,6.6],"format":".1f","title":null}},
   "y":{"field":"v","type":"quantitative","scale":{"domain":[0,2.04],"range":[128,34],"nice":false,"zero":false},"axis":null}},
  "layer":[
  {"transform":[{"filter":"datum.p=='a'&&datum.s=='fit'"}],"mark":{"type":"line","color":"#25c425","strokeWidth":2.5,"interpolate":"monotone"},
   "encoding":{"y":{"field":"v","type":"quantitative","scale":{"domain":[0,2.04],"range":[128,34],"nice":false,"zero":false},"axis":{"orient":"left","values":[0,0.5,1,1.5,2],"format":".1f","title":"A280","titleX":-41.5,"titleY":87,"titleAngle":270,"titleAlign":"center","titleBaseline":"middle"}}}},
  {"transform":[{"filter":"datum.p=='a'&&datum.s=='fit'"}],"mark":{"type":"line","color":"black","strokeWidth":1.8,"strokeDash":[1.5,2],"interpolate":"monotone"}},
  {"transform":[{"filter":"datum.p=='a'&&datum.s=='M'"}],"mark":{"type":"line","color":"black","strokeWidth":1.5,"interpolate":"monotone"}},
  {"transform":[{"filter":"datum.p=='a'&&datum.s=='D'"}],"mark":{"type":"line","color":"black","strokeWidth":1.5,"strokeDash":[4,3],"interpolate":"monotone"}},
  {"transform":[{"filter":"datum.p=='a'&&datum.s=='lead'"}],"mark":{"type":"rule","color":"black","strokeWidth":1},
   "encoding":{"x2":{"field":"r2"},"y2":{"field":"v2"},"y":{"field":"v","type":"quantitative","scale":{"domain":[0,2.04],"range":[128,34],"nice":false,"zero":false},"axis":{"orient":"right","labels":false,"ticks":false,"domainWidth":2,"title":null}}}},
  {"transform":[{"filter":"datum.p=='a'&&datum.s=='lab'"}],"mark":{"type":"text","align":"left","baseline":"middle","fontSize":11},"encoding":{"text":{"field":"t"}}},
  {"transform":[{"filter":"datum.p=='a'&&datum.s=='md'"}],"mark":{"type":"text","align":"center","baseline":"middle","fontSize":11},"encoding":{"text":{"field":"t"}}}]}]},

{"width":100,"height":128,"resolve":{"scale":{"y":"independent"},"axis":{"x":"independent","y":"independent"}},"layer":[
 {"resolve":{"axis":{"y":"independent"}},"layer":[
  {"transform":[{"filter":"datum.p=='b'&&datum.s=='res'"}],"mark":{"type":"line","color":"#25c425","strokeWidth":1.6},
   "encoding":{"x":{"field":"r","type":"quantitative","scale":{"domain":[6.8915,7.1224],"nice":false,"zero":false},"axis":{"orient":"top","labels":false,"ticks":false,"domainWidth":2,"title":null}},
   "y":{"field":"v","type":"quantitative","scale":{"domain":[-0.045,0.04],"range":[27,0],"nice":false,"zero":false},"axis":{"orient":"left","values":[-0.04,0],"format":".2f","title":null,"minExtent":37,"maxExtent":37}}}},
  {"data":{"values":[{}]},"mark":{"type":"rule","color":"black","strokeDash":[1,2],"strokeWidth":1},
   "encoding":{"y":{"datum":0,"type":"quantitative","scale":{"domain":[-0.045,0.04],"range":[27,0],"nice":false,"zero":false},"axis":{"orient":"right","labels":false,"ticks":false,"domainWidth":2,"title":null}}}}]},
 {"resolve":{"axis":{"y":"independent"}},
  "encoding":{"x":{"field":"r","type":"quantitative","scale":{"domain":[6.8915,7.1224],"nice":false,"zero":false},"axis":{"orient":"bottom","values":[6.9,7,7.1],"format":".1f","title":null}},
   "y":{"field":"v","type":"quantitative","scale":{"domain":[-0.02,1.54],"range":[128,34],"nice":false,"zero":false},"axis":null}},
  "layer":[
  {"transform":[{"filter":"datum.p=='b'&&datum.s=='fit'"}],"mark":{"type":"line","color":"#25c425","strokeWidth":2.5,"interpolate":"monotone"},
   "encoding":{"y":{"field":"v","type":"quantitative","scale":{"domain":[-0.02,1.54],"range":[128,34],"nice":false,"zero":false},"axis":{"orient":"left","values":[0,0.5,1,1.5],"format":".1f","title":null,"minExtent":37,"maxExtent":37}}}},
  {"transform":[{"filter":"datum.p=='b'&&datum.s=='fit'"}],"mark":{"type":"line","color":"black","strokeWidth":1.8,"strokeDash":[1.5,2],"interpolate":"monotone"}},
  {"transform":[{"filter":"datum.p=='b'&&datum.s=='M'"}],"mark":{"type":"line","color":"black","strokeWidth":1.5,"interpolate":"monotone"}},
  {"transform":[{"filter":"datum.p=='b'&&datum.s=='D'"}],"mark":{"type":"line","color":"black","strokeWidth":1.5,"strokeDash":[4,3],"interpolate":"monotone"}},
  {"transform":[{"filter":"datum.p=='b'&&datum.s=='lead'"}],"mark":{"type":"rule","color":"black","strokeWidth":1},
   "encoding":{"x2":{"field":"r2"},"y2":{"field":"v2"},"y":{"field":"v","type":"quantitative","scale":{"domain":[-0.02,1.54],"range":[128,34],"nice":false,"zero":false},"axis":{"orient":"right","labels":false,"ticks":false,"domainWidth":2,"title":null}}}},
  {"transform":[{"filter":"datum.p=='b'&&datum.s=='lab'"}],"mark":{"type":"text","align":"left","baseline":"middle","fontSize":11},"encoding":{"text":{"field":"t"}}},
  {"transform":[{"filter":"datum.p=='b'&&datum.s=='md'"}],"mark":{"type":"text","align":"center","baseline":"middle","fontSize":11},"encoding":{"text":{"field":"t"}}}]}]},

{"width":99,"height":128,"resolve":{"scale":{"y":"independent"},"axis":{"x":"independent","y":"independent"}},"layer":[
 {"resolve":{"axis":{"y":"independent"}},"layer":[
  {"transform":[{"filter":"datum.p=='c'&&datum.s=='res'"}],"mark":{"type":"line","color":"#25c425","strokeWidth":1.6},
   "encoding":{"x":{"field":"r","type":"quantitative","scale":{"domain":[6.485,6.617],"nice":false,"zero":false},"axis":{"orient":"top","labels":false,"ticks":false,"domainWidth":2,"title":null}},
   "y":{"field":"v","type":"quantitative","scale":{"domain":[-0.018,0.0226],"range":[27,0],"nice":false,"zero":false},"axis":{"orient":"left","values":[0,0.02],"format":".2f","title":"Residuals","titleX":-45,"titleY":19,"titleAngle":270,"titleAlign":"center","titleBaseline":"middle"}}}},
  {"data":{"values":[{}]},"mark":{"type":"rule","color":"black","strokeDash":[1,2],"strokeWidth":1},
   "encoding":{"y":{"datum":0,"type":"quantitative","scale":{"domain":[-0.018,0.0226],"range":[27,0],"nice":false,"zero":false},"axis":{"orient":"right","labels":false,"ticks":false,"domainWidth":2,"title":null}}}}]},
 {"resolve":{"axis":{"y":"independent"}},
  "encoding":{"x":{"field":"r","type":"quantitative","scale":{"domain":[6.485,6.617],"nice":false,"zero":false},"axis":{"orient":"bottom","values":[6.5,6.55,6.6],"format":".2f","title":null}},
   "y":{"field":"v","type":"quantitative","scale":{"domain":[-0.034,1.36],"range":[128,34],"nice":false,"zero":false},"axis":null}},
  "layer":[
  {"transform":[{"filter":"datum.p=='c'&&datum.s=='fit'"}],"mark":{"type":"line","color":"#25c425","strokeWidth":2.5,"interpolate":"monotone"},
   "encoding":{"y":{"field":"v","type":"quantitative","scale":{"domain":[-0.034,1.36],"range":[128,34],"nice":false,"zero":false},"axis":{"orient":"left","values":[0,0.5,1],"format":".1f","title":"A280","titleX":-41.5,"titleY":87,"titleAngle":270,"titleAlign":"center","titleBaseline":"middle"}}}},
  {"transform":[{"filter":"datum.p=='c'&&datum.s=='fit'"}],"mark":{"type":"line","color":"black","strokeWidth":1.8,"strokeDash":[1.5,2],"interpolate":"monotone"}},
  {"transform":[{"filter":"datum.p=='c'&&datum.s=='M'"}],"mark":{"type":"line","color":"black","strokeWidth":1.5,"interpolate":"monotone"}},
  {"transform":[{"filter":"datum.p=='c'&&datum.s=='D'"}],"mark":{"type":"line","color":"black","strokeWidth":1.5,"strokeDash":[4,3],"interpolate":"monotone"}},
  {"transform":[{"filter":"datum.p=='c'&&datum.s=='lead'"}],"mark":{"type":"rule","color":"black","strokeWidth":1},
   "encoding":{"x2":{"field":"r2"},"y2":{"field":"v2"},"y":{"field":"v","type":"quantitative","scale":{"domain":[-0.034,1.36],"range":[128,34],"nice":false,"zero":false},"axis":{"orient":"right","labels":false,"ticks":false,"domainWidth":2,"title":null}}}},
  {"transform":[{"filter":"datum.p=='c'&&datum.s=='lab'"}],"mark":{"type":"text","align":"left","baseline":"middle","fontSize":11},"encoding":{"text":{"field":"t"}}},
  {"transform":[{"filter":"datum.p=='c'&&datum.s=='md'"}],"mark":{"type":"text","align":"center","baseline":"middle","fontSize":11},"encoding":{"text":{"field":"t"}}}]}]},

{"width":100,"height":128,"resolve":{"scale":{"y":"independent"},"axis":{"x":"independent","y":"independent"}},"layer":[
 {"resolve":{"axis":{"y":"independent"}},"layer":[
  {"transform":[{"filter":"datum.p=='d'&&datum.s=='res'"}],"mark":{"type":"line","color":"#25c425","strokeWidth":1.6},
   "encoding":{"x":{"field":"r","type":"quantitative","scale":{"domain":[6.9225,7.116],"nice":false,"zero":false},"axis":{"orient":"top","labels":false,"ticks":false,"domainWidth":2,"title":null}},
   "y":{"field":"v","type":"quantitative","scale":{"domain":[-0.015,0.01],"range":[27,0],"nice":false,"zero":false},"axis":{"orient":"left","values":[-0.01,0,0.01],"format":".2f","title":null,"minExtent":37,"maxExtent":37}}}},
  {"data":{"values":[{}]},"mark":{"type":"rule","color":"black","strokeDash":[1,2],"strokeWidth":1},
   "encoding":{"y":{"datum":0,"type":"quantitative","scale":{"domain":[-0.015,0.01],"range":[27,0],"nice":false,"zero":false},"axis":{"orient":"right","labels":false,"ticks":false,"domainWidth":2,"title":null}}}}]},
 {"resolve":{"axis":{"y":"independent"}},
  "encoding":{"x":{"field":"r","type":"quantitative","scale":{"domain":[6.9225,7.116],"nice":false,"zero":false},"axis":{"orient":"bottom","values":[6.95,7,7.05,7.1],"format":".2f","title":null}},
   "y":{"field":"v","type":"quantitative","scale":{"domain":[-0.026,0.499],"range":[128,34],"nice":false,"zero":false},"axis":null}},
  "layer":[
  {"transform":[{"filter":"datum.p=='d'&&datum.s=='fit'"}],"mark":{"type":"line","color":"#25c425","strokeWidth":2.5,"interpolate":"monotone"},
   "encoding":{"y":{"field":"v","type":"quantitative","scale":{"domain":[-0.026,0.499],"range":[128,34],"nice":false,"zero":false},"axis":{"orient":"left","values":[0,0.2,0.4],"format":".1f","title":null,"minExtent":37,"maxExtent":37}}}},
  {"transform":[{"filter":"datum.p=='d'&&datum.s=='fit'"}],"mark":{"type":"line","color":"black","strokeWidth":1.8,"strokeDash":[1.5,2],"interpolate":"monotone"}},
  {"transform":[{"filter":"datum.p=='d'&&datum.s=='M'"}],"mark":{"type":"line","color":"black","strokeWidth":1.5,"interpolate":"monotone"}},
  {"transform":[{"filter":"datum.p=='d'&&datum.s=='D'"}],"mark":{"type":"line","color":"black","strokeWidth":1.5,"strokeDash":[4,3],"interpolate":"monotone"}},
  {"transform":[{"filter":"datum.p=='d'&&datum.s=='lead'"}],"mark":{"type":"rule","color":"black","strokeWidth":1},
   "encoding":{"x2":{"field":"r2"},"y2":{"field":"v2"},"y":{"field":"v","type":"quantitative","scale":{"domain":[-0.026,0.499],"range":[128,34],"nice":false,"zero":false},"axis":{"orient":"right","labels":false,"ticks":false,"domainWidth":2,"title":null}}}},
  {"transform":[{"filter":"datum.p=='d'&&datum.s=='lab'"}],"mark":{"type":"text","align":"left","baseline":"middle","fontSize":11},"encoding":{"text":{"field":"t"}}},
  {"transform":[{"filter":"datum.p=='d'&&datum.s=='md'"}],"mark":{"type":"text","align":"center","baseline":"middle","fontSize":11},"encoding":{"text":{"field":"t"}}}]}]},

{"width":99,"height":128,"resolve":{"scale":{"y":"independent"},"axis":{"x":"independent","y":"independent"}},"layer":[
 {"resolve":{"axis":{"y":"independent"}},"layer":[
  {"transform":[{"filter":"datum.p=='e'&&datum.s=='res'"}],"mark":{"type":"line","color":"#25c425","strokeWidth":1.6},
   "encoding":{"x":{"field":"r","type":"quantitative","scale":{"domain":[6.41,6.617],"nice":false,"zero":false},"axis":{"orient":"top","labels":false,"ticks":false,"domainWidth":2,"title":null}},
   "y":{"field":"v","type":"quantitative","scale":{"domain":[-0.026,0.026],"range":[27,0],"nice":false,"zero":false},"axis":{"orient":"left","values":[-0.02,0,0.02],"format":".2f","title":"Residuals","titleX":-45,"titleY":19,"titleAngle":270,"titleAlign":"center","titleBaseline":"middle"}}}},
  {"data":{"values":[{}]},"mark":{"type":"rule","color":"black","strokeDash":[1,2],"strokeWidth":1},
   "encoding":{"y":{"datum":0,"type":"quantitative","scale":{"domain":[-0.026,0.026],"range":[27,0],"nice":false,"zero":false},"axis":{"orient":"right","labels":false,"ticks":false,"domainWidth":2,"title":null}}}}]},
 {"resolve":{"axis":{"y":"independent"}},
  "encoding":{"x":{"field":"r","type":"quantitative","scale":{"domain":[6.41,6.617],"nice":false,"zero":false},"axis":{"orient":"bottom","values":[6.45,6.5,6.55,6.6],"labelExpr":"datum.value==6.5||datum.value==6.6?format(datum.value,'.2f'):''","title":null}},
   "y":{"field":"v","type":"quantitative","scale":{"domain":[-0.037,1.008],"range":[128,34],"nice":false,"zero":false},"axis":null}},
  "layer":[
  {"transform":[{"filter":"datum.p=='e'&&datum.s=='fit'"}],"mark":{"type":"line","color":"#25c425","strokeWidth":2.5,"interpolate":"monotone"},
   "encoding":{"y":{"field":"v","type":"quantitative","scale":{"domain":[-0.037,1.008],"range":[128,34],"nice":false,"zero":false},"axis":{"orient":"left","values":[0,0.5,1],"format":".1f","title":"A280","titleX":-41.5,"titleY":87,"titleAngle":270,"titleAlign":"center","titleBaseline":"middle"}}}},
  {"transform":[{"filter":"datum.p=='e'&&datum.s=='fit'"}],"mark":{"type":"line","color":"black","strokeWidth":1.8,"strokeDash":[1.5,2],"interpolate":"monotone"}},
  {"transform":[{"filter":"datum.p=='e'&&datum.s=='M'"}],"mark":{"type":"line","color":"black","strokeWidth":1.5,"interpolate":"monotone"}},
  {"transform":[{"filter":"datum.p=='e'&&datum.s=='D'"}],"mark":{"type":"line","color":"black","strokeWidth":1.5,"strokeDash":[4,3],"interpolate":"monotone"}},
  {"transform":[{"filter":"datum.p=='e'&&datum.s=='lead'"}],"mark":{"type":"rule","color":"black","strokeWidth":1},
   "encoding":{"x2":{"field":"r2"},"y2":{"field":"v2"},"y":{"field":"v","type":"quantitative","scale":{"domain":[-0.037,1.008],"range":[128,34],"nice":false,"zero":false},"axis":{"orient":"right","labels":false,"ticks":false,"domainWidth":2,"title":null}}}},
  {"transform":[{"filter":"datum.p=='e'&&datum.s=='lab'"}],"mark":{"type":"text","align":"left","baseline":"middle","fontSize":11},"encoding":{"text":{"field":"t"}}},
  {"transform":[{"filter":"datum.p=='e'&&datum.s=='md'"}],"mark":{"type":"text","align":"center","baseline":"middle","fontSize":11},"encoding":{"text":{"field":"t"}}}]}]},

{"width":100,"height":128,"resolve":{"scale":{"y":"independent"},"axis":{"x":"independent","y":"independent"}},"layer":[
 {"resolve":{"axis":{"y":"independent"}},"layer":[
  {"transform":[{"filter":"datum.p=='f'&&datum.s=='res'"}],"mark":{"type":"line","color":"#25c425","strokeWidth":1.6},
   "encoding":{"x":{"field":"r","type":"quantitative","scale":{"domain":[6.968,7.112],"nice":false,"zero":false},"axis":{"orient":"top","labels":false,"ticks":false,"domainWidth":2,"title":null}},
   "y":{"field":"v","type":"quantitative","scale":{"domain":[-0.0174,0.0265],"range":[27,0],"nice":false,"zero":false},"axis":{"orient":"left","values":[0,0.02],"format":".2f","title":null,"minExtent":37,"maxExtent":37}}}},
  {"data":{"values":[{}]},"mark":{"type":"rule","color":"black","strokeDash":[1,2],"strokeWidth":1},
   "encoding":{"y":{"datum":0,"type":"quantitative","scale":{"domain":[-0.0174,0.0265],"range":[27,0],"nice":false,"zero":false},"axis":{"orient":"right","labels":false,"ticks":false,"domainWidth":2,"title":null}}}}]},
 {"resolve":{"axis":{"y":"independent"}},
  "encoding":{"x":{"field":"r","type":"quantitative","scale":{"domain":[6.968,7.112],"nice":false,"zero":false},"axis":{"orient":"bottom","values":[7,7.05,7.1],"format":".2f","title":null}},
   "y":{"field":"v","type":"quantitative","scale":{"domain":[-0.023,0.623],"range":[128,34],"nice":false,"zero":false},"axis":null}},
  "layer":[
  {"transform":[{"filter":"datum.p=='f'&&datum.s=='fit'"}],"mark":{"type":"line","color":"#25c425","strokeWidth":2.5,"interpolate":"monotone"},
   "encoding":{"y":{"field":"v","type":"quantitative","scale":{"domain":[-0.023,0.623],"range":[128,34],"nice":false,"zero":false},"axis":{"orient":"left","values":[0,0.2,0.4,0.6],"format":".1f","title":null,"minExtent":37,"maxExtent":37}}}},
  {"transform":[{"filter":"datum.p=='f'&&datum.s=='fit'"}],"mark":{"type":"line","color":"black","strokeWidth":1.8,"strokeDash":[1.5,2],"interpolate":"monotone"}},
  {"transform":[{"filter":"datum.p=='f'&&datum.s=='M'"}],"mark":{"type":"line","color":"black","strokeWidth":1.5,"interpolate":"monotone"}},
  {"transform":[{"filter":"datum.p=='f'&&datum.s=='D'"}],"mark":{"type":"line","color":"black","strokeWidth":1.5,"strokeDash":[4,3],"interpolate":"monotone"}},
  {"transform":[{"filter":"datum.p=='f'&&datum.s=='lead'"}],"mark":{"type":"rule","color":"black","strokeWidth":1},
   "encoding":{"x2":{"field":"r2"},"y2":{"field":"v2"},"y":{"field":"v","type":"quantitative","scale":{"domain":[-0.023,0.623],"range":[128,34],"nice":false,"zero":false},"axis":{"orient":"right","labels":false,"ticks":false,"domainWidth":2,"title":null}}}},
  {"transform":[{"filter":"datum.p=='f'&&datum.s=='lab'"}],"mark":{"type":"text","align":"left","baseline":"middle","fontSize":11},"encoding":{"text":{"field":"t"}}},
  {"transform":[{"filter":"datum.p=='f'&&datum.s=='md'"}],"mark":{"type":"text","align":"center","baseline":"middle","fontSize":11},"encoding":{"text":{"field":"t"}}}]}]},

{"width":99,"height":128,"resolve":{"scale":{"y":"independent"},"axis":{"x":"independent","y":"independent"}},"layer":[
 {"resolve":{"axis":{"y":"independent"}},"layer":[
  {"transform":[{"filter":"datum.p=='g'&&datum.s=='res'"}],"mark":{"type":"line","color":"#25c425","strokeWidth":1.6},
   "encoding":{"x":{"field":"r","type":"quantitative","scale":{"domain":[6.433,6.608],"nice":false,"zero":false},"axis":{"orient":"top","labels":false,"ticks":false,"domainWidth":2,"title":null}},
   "y":{"field":"v","type":"quantitative","scale":{"domain":[-0.0118,0.02],"range":[27,0],"nice":false,"zero":false},"axis":{"orient":"left","values":[0,0.02],"format":".2f","title":"Residuals","titleX":-45,"titleY":19,"titleAngle":270,"titleAlign":"center","titleBaseline":"middle"}}}},
  {"data":{"values":[{}]},"mark":{"type":"rule","color":"black","strokeDash":[1,2],"strokeWidth":1},
   "encoding":{"y":{"datum":0,"type":"quantitative","scale":{"domain":[-0.0118,0.02],"range":[27,0],"nice":false,"zero":false},"axis":{"orient":"right","labels":false,"ticks":false,"domainWidth":2,"title":null}}}}]},
 {"resolve":{"axis":{"y":"independent"}},
  "encoding":{"x":{"field":"r","type":"quantitative","scale":{"domain":[6.433,6.608],"nice":false,"zero":false},"axis":{"orient":"bottom","values":[6.45,6.5,6.55,6.6],"format":".2f","title":null}},
   "y":{"field":"v","type":"quantitative","scale":{"domain":[-0.01,0.893],"range":[128,34],"nice":false,"zero":false},"axis":null}},
  "layer":[
  {"transform":[{"filter":"datum.p=='g'&&datum.s=='data'"}],"mark":{"type":"line","color":"#25c425","strokeWidth":2.5,"interpolate":"monotone"},
   "encoding":{"y":{"field":"v","type":"quantitative","scale":{"domain":[-0.01,0.893],"range":[128,34],"nice":false,"zero":false},"axis":{"orient":"left","values":[0,0.2,0.4,0.6,0.8],"format":".1f","title":"A280","titleX":-41.5,"titleY":87,"titleAngle":270,"titleAlign":"center","titleBaseline":"middle"}}}},
  {"transform":[{"filter":"datum.p=='g'&&datum.s=='M'"}],"mark":{"type":"line","color":"black","strokeWidth":1.5,"interpolate":"monotone"}},
  {"transform":[{"filter":"datum.p=='g'&&datum.s=='D'"}],"mark":{"type":"line","color":"black","strokeWidth":1.5,"strokeDash":[4,3],"interpolate":"monotone"}},
  {"transform":[{"filter":"datum.p=='g'&&datum.s=='lead'"}],"mark":{"type":"rule","color":"black","strokeWidth":1},
   "encoding":{"x2":{"field":"r2"},"y2":{"field":"v2"},"y":{"field":"v","type":"quantitative","scale":{"domain":[-0.01,0.893],"range":[128,34],"nice":false,"zero":false},"axis":{"orient":"right","labels":false,"ticks":false,"domainWidth":2,"title":null}}}},
  {"transform":[{"filter":"datum.p=='g'&&datum.s=='lab'"}],"mark":{"type":"text","align":"left","baseline":"middle","fontSize":11},"encoding":{"text":{"field":"t"}}},
  {"transform":[{"filter":"datum.p=='g'&&datum.s=='md'"}],"mark":{"type":"text","align":"center","baseline":"middle","fontSize":11},"encoding":{"text":{"field":"t"}}}]}]},

{"width":100,"height":128,"resolve":{"scale":{"y":"independent"},"axis":{"x":"independent","y":"independent"}},"layer":[
 {"resolve":{"axis":{"y":"independent"}},"layer":[
  {"transform":[{"filter":"datum.p=='h'&&datum.s=='res'"}],"mark":{"type":"line","color":"#25c425","strokeWidth":1.6},
   "encoding":{"x":{"field":"r","type":"quantitative","scale":{"domain":[6.867,7.104],"nice":false,"zero":false},"axis":{"orient":"top","labels":false,"ticks":false,"domainWidth":2,"title":null}},
   "y":{"field":"v","type":"quantitative","scale":{"domain":[-0.0097,0.0142],"range":[27,0],"nice":false,"zero":false},"axis":{"orient":"left","values":[0,0.01],"format":".2f","title":null,"minExtent":37,"maxExtent":37}}}},
  {"data":{"values":[{}]},"mark":{"type":"rule","color":"black","strokeDash":[1,2],"strokeWidth":1},
   "encoding":{"y":{"datum":0,"type":"quantitative","scale":{"domain":[-0.0097,0.0142],"range":[27,0],"nice":false,"zero":false},"axis":{"orient":"right","labels":false,"ticks":false,"domainWidth":2,"title":null}}}}]},
 {"resolve":{"axis":{"y":"independent"}},
  "encoding":{"x":{"field":"r","type":"quantitative","scale":{"domain":[6.867,7.104],"nice":false,"zero":false},"axis":{"orient":"bottom","values":[6.9,7,7.1],"format":".1f","title":null}},
   "y":{"field":"v","type":"quantitative","scale":{"domain":[-0.0055,0.512],"range":[128,34],"nice":false,"zero":false},"axis":null}},
  "layer":[
  {"transform":[{"filter":"datum.p=='h'&&datum.s=='fit'"}],"mark":{"type":"line","color":"#25c425","strokeWidth":2.5,"interpolate":"monotone"},
   "encoding":{"y":{"field":"v","type":"quantitative","scale":{"domain":[-0.0055,0.512],"range":[128,34],"nice":false,"zero":false},"axis":{"orient":"left","values":[0,0.2,0.4],"format":".1f","title":null,"minExtent":37,"maxExtent":37}}}},
  {"transform":[{"filter":"datum.p=='h'&&datum.s=='fit'"}],"mark":{"type":"line","color":"black","strokeWidth":1.8,"strokeDash":[1.5,2],"interpolate":"monotone"}},
  {"transform":[{"filter":"datum.p=='h'&&datum.s=='M'"}],"mark":{"type":"line","color":"black","strokeWidth":1.5,"interpolate":"monotone"}},
  {"transform":[{"filter":"datum.p=='h'&&datum.s=='D'"}],"mark":{"type":"line","color":"black","strokeWidth":1.5,"strokeDash":[4,3],"interpolate":"monotone"}},
  {"transform":[{"filter":"datum.p=='h'&&datum.s=='lead'"}],"mark":{"type":"rule","color":"black","strokeWidth":1},
   "encoding":{"x2":{"field":"r2"},"y2":{"field":"v2"},"y":{"field":"v","type":"quantitative","scale":{"domain":[-0.0055,0.512],"range":[128,34],"nice":false,"zero":false},"axis":{"orient":"right","labels":false,"ticks":false,"domainWidth":2,"title":null}}}},
  {"transform":[{"filter":"datum.p=='h'&&datum.s=='lab'"}],"mark":{"type":"text","align":"left","baseline":"middle","fontSize":11},"encoding":{"text":{"field":"t"}}},
  {"transform":[{"filter":"datum.p=='h'&&datum.s=='md'"}],"mark":{"type":"text","align":"center","baseline":"middle","fontSize":11},"encoding":{"text":{"field":"t"}}}]}]},

{"width":99,"height":128,"resolve":{"scale":{"y":"independent"},"axis":{"x":"independent","y":"independent"}},"layer":[
 {"resolve":{"axis":{"y":"independent"}},"layer":[
  {"transform":[{"filter":"datum.p=='i'&&datum.s=='res'"}],"mark":{"type":"line","color":"#25c425","strokeWidth":1.6},
   "encoding":{"x":{"field":"r","type":"quantitative","scale":{"domain":[6.369,6.606],"nice":false,"zero":false},"axis":{"orient":"top","labels":false,"ticks":false,"domainWidth":2,"title":null}},
   "y":{"field":"v","type":"quantitative","scale":{"domain":[-0.026,0.022],"range":[27,0],"nice":false,"zero":false},"axis":{"orient":"left","values":[-0.02,0,0.02],"format":".2f","title":"Residuals","titleX":-45,"titleY":19,"titleAngle":270,"titleAlign":"center","titleBaseline":"middle"}}}},
  {"data":{"values":[{}]},"mark":{"type":"rule","color":"black","strokeDash":[1,2],"strokeWidth":1},
   "encoding":{"y":{"datum":0,"type":"quantitative","scale":{"domain":[-0.026,0.022],"range":[27,0],"nice":false,"zero":false},"axis":{"orient":"right","labels":false,"ticks":false,"domainWidth":2,"title":null}}}}]},
 {"resolve":{"axis":{"y":"independent"}},
  "encoding":{"x":{"field":"r","type":"quantitative","scale":{"domain":[6.369,6.606],"nice":false,"zero":false},"axis":{"orient":"bottom","values":[6.4,6.5,6.6],"format":".1f","title":"Radius (cm)","titleFontSize":12,"titlePadding":2}},
   "y":{"field":"v","type":"quantitative","scale":{"domain":[-0.0125,0.679],"range":[128,34],"nice":false,"zero":false},"axis":null}},
  "layer":[
  {"transform":[{"filter":"datum.p=='i'&&datum.s=='fit'"}],"mark":{"type":"line","color":"#25c425","strokeWidth":2.5,"interpolate":"monotone"},
   "encoding":{"y":{"field":"v","type":"quantitative","scale":{"domain":[-0.0125,0.679],"range":[128,34],"nice":false,"zero":false},"axis":{"orient":"left","values":[0,0.2,0.4,0.6],"format":".1f","title":"A280","titleX":-41.5,"titleY":87,"titleAngle":270,"titleAlign":"center","titleBaseline":"middle"}}}},
  {"transform":[{"filter":"datum.p=='i'&&datum.s=='fit'"}],"mark":{"type":"line","color":"black","strokeWidth":1.8,"strokeDash":[1.5,2],"interpolate":"monotone"}},
  {"transform":[{"filter":"datum.p=='i'&&datum.s=='M'"}],"mark":{"type":"line","color":"black","strokeWidth":1.5,"interpolate":"monotone"}},
  {"transform":[{"filter":"datum.p=='i'&&datum.s=='D'"}],"mark":{"type":"line","color":"black","strokeWidth":1.5,"strokeDash":[4,3],"interpolate":"monotone"}},
  {"transform":[{"filter":"datum.p=='i'&&datum.s=='lead'"}],"mark":{"type":"rule","color":"black","strokeWidth":1},
   "encoding":{"x2":{"field":"r2"},"y2":{"field":"v2"},"y":{"field":"v","type":"quantitative","scale":{"domain":[-0.0125,0.679],"range":[128,34],"nice":false,"zero":false},"axis":{"orient":"right","labels":false,"ticks":false,"domainWidth":2,"title":null}}}},
  {"transform":[{"filter":"datum.p=='i'&&datum.s=='lab'"}],"mark":{"type":"text","align":"left","baseline":"middle","fontSize":11},"encoding":{"text":{"field":"t"}}},
  {"transform":[{"filter":"datum.p=='i'&&datum.s=='md'"}],"mark":{"type":"text","align":"center","baseline":"middle","fontSize":11},"encoding":{"text":{"field":"t"}}}]}]},

{"width":100,"height":128,"resolve":{"scale":{"y":"independent"},"axis":{"x":"independent","y":"independent"}},"layer":[
 {"resolve":{"axis":{"y":"independent"}},"layer":[
  {"transform":[{"filter":"datum.p=='j'&&datum.s=='res'"}],"mark":{"type":"line","color":"#25c425","strokeWidth":1.6},
   "encoding":{"x":{"field":"r","type":"quantitative","scale":{"domain":[6.9225,7.116],"nice":false,"zero":false},"axis":{"orient":"top","labels":false,"ticks":false,"domainWidth":2,"title":null}},
   "y":{"field":"v","type":"quantitative","scale":{"domain":[-0.0055,0.0057],"range":[27,0],"nice":false,"zero":false},"axis":{"orient":"left","values":[-0.005,0,0.005],"format":".3f","title":null,"minExtent":37,"maxExtent":37}}}},
  {"data":{"values":[{}]},"mark":{"type":"rule","color":"black","strokeDash":[1,2],"strokeWidth":1},
   "encoding":{"y":{"datum":0,"type":"quantitative","scale":{"domain":[-0.0055,0.0057],"range":[27,0],"nice":false,"zero":false},"axis":{"orient":"right","labels":false,"ticks":false,"domainWidth":2,"title":null}}}}]},
 {"resolve":{"axis":{"y":"independent"}},
  "encoding":{"x":{"field":"r","type":"quantitative","scale":{"domain":[6.9225,7.116],"nice":false,"zero":false},"axis":{"orient":"bottom","values":[6.95,7,7.05,7.1],"format":".2f","title":"Radius (cm)","titleFontSize":12,"titlePadding":2}},
   "y":{"field":"v","type":"quantitative","scale":{"domain":[-0.008,0.326],"range":[128,34],"nice":false,"zero":false},"axis":null}},
  "layer":[
  {"transform":[{"filter":"datum.p=='j'&&datum.s=='fit'"}],"mark":{"type":"line","color":"#25c425","strokeWidth":2.5,"interpolate":"monotone"},
   "encoding":{"y":{"field":"v","type":"quantitative","scale":{"domain":[-0.008,0.326],"range":[128,34],"nice":false,"zero":false},"axis":{"orient":"left","values":[0,0.1,0.2,0.3],"format":".1f","title":null,"minExtent":37,"maxExtent":37}}}},
  {"transform":[{"filter":"datum.p=='j'&&datum.s=='fit'"}],"mark":{"type":"line","color":"black","strokeWidth":1.8,"strokeDash":[1.5,2],"interpolate":"monotone"}},
  {"transform":[{"filter":"datum.p=='j'&&datum.s=='M'"}],"mark":{"type":"line","color":"black","strokeWidth":1.5,"interpolate":"monotone"}},
  {"transform":[{"filter":"datum.p=='j'&&datum.s=='D'"}],"mark":{"type":"line","color":"black","strokeWidth":1.5,"strokeDash":[4,3],"interpolate":"monotone"}},
  {"transform":[{"filter":"datum.p=='j'&&datum.s=='lead'"}],"mark":{"type":"rule","color":"black","strokeWidth":1},
   "encoding":{"x2":{"field":"r2"},"y2":{"field":"v2"},"y":{"field":"v","type":"quantitative","scale":{"domain":[-0.008,0.326],"range":[128,34],"nice":false,"zero":false},"axis":{"orient":"right","labels":false,"ticks":false,"domainWidth":2,"title":null}}}},
  {"transform":[{"filter":"datum.p=='j'&&datum.s=='lab'"}],"mark":{"type":"text","align":"left","baseline":"middle","fontSize":11},"encoding":{"text":{"field":"t"}}},
  {"transform":[{"filter":"datum.p=='j'&&datum.s=='md'"}],"mark":{"type":"text","align":"center","baseline":"middle","fontSize":11},"encoding":{"text":{"field":"t"}}}]}]}
]
}
